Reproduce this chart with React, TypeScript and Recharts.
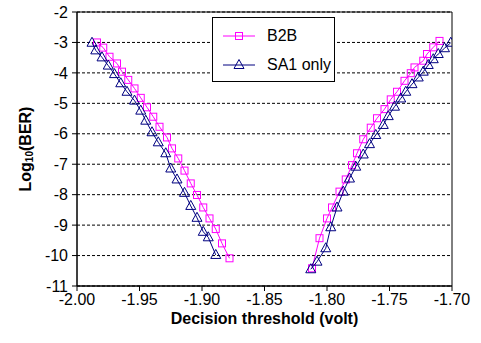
import {
  ScatterChart,
  Scatter,
  XAxis,
  YAxis,
  CartesianGrid,
  Legend,
  ReferenceArea,
} from "recharts";

const MAGENTA = "#ff00ff";
const NAVY = "#000080";
const FONT = '"Liberation Sans", Arial, sans-serif';

const X_TICKS = [-2.0, -1.95, -1.9, -1.85, -1.8, -1.75, -1.7];
const Y_TICKS = [-11, -10, -9, -8, -7, -6, -5, -4, -3, -2];

// B2B, falling edge
const b2bLeftX = [-1.984, -1.979, -1.974, -1.968, -1.964, -1.959, -1.954, -1.949, -1.944, -1.939, -1.934, -1.928, -1.924, -1.919, -1.914, -1.909, -1.904, -1.899, -1.894, -1.889, -1.884, -1.878];
const b2bLeftY = [-3.0, -3.17, -3.47, -3.69, -3.96, -4.23, -4.51, -4.82, -5.13, -5.44, -5.77, -6.12, -6.48, -6.81, -7.21, -7.63, -8.01, -8.42, -8.78, -9.13, -9.6, -10.09];

// B2B, rising edge
const b2bRightX = [-1.812, -1.806, -1.8, -1.796, -1.79, -1.785, -1.78, -1.776, -1.771, -1.765, -1.76, -1.754, -1.749, -1.744, -1.738, -1.733, -1.73, -1.723, -1.72, -1.715, -1.71];
const b2bRightY = [-10.42, -9.43, -8.78, -8.42, -7.9, -7.5, -7.03, -6.64, -6.18, -5.8, -5.49, -5.19, -4.87, -4.62, -4.26, -4.01, -3.82, -3.6, -3.38, -3.16, -2.95];

// SA1 only, falling edge
const sa1LeftX = [-1.988, -1.985, -1.98, -1.975, -1.97, -1.965, -1.96, -1.954, -1.949, -1.945, -1.94, -1.935, -1.929, -1.925, -1.92, -1.914, -1.909, -1.904, -1.899, -1.895, -1.889];
const sa1LeftY = [-3.01, -3.26, -3.49, -3.76, -4.04, -4.34, -4.62, -4.91, -5.24, -5.57, -5.95, -6.28, -6.64, -7.14, -7.5, -7.94, -8.37, -8.76, -9.22, -9.4, -9.98];

// SA1 only, rising edge
const sa1RightX = [-1.813, -1.808, -1.801, -1.797, -1.792, -1.787, -1.782, -1.777, -1.771, -1.766, -1.761, -1.755, -1.751, -1.746, -1.741, -1.737, -1.732, -1.727, -1.723, -1.719, -1.715, -1.711, -1.706, -1.701];
const sa1RightY = [-10.45, -10.2, -9.76, -9.07, -8.42, -7.9, -7.47, -7.08, -6.68, -6.34, -6.04, -5.71, -5.42, -5.11, -4.84, -4.62, -4.37, -4.15, -3.96, -3.74, -3.55, -3.38, -3.19, -3.01];

const zip = (xs: number[], ys: number[]) => xs.map((x, i) => ({ x, y: ys[i] }));

function SquareDot(props: any) {
  const { cx, cy } = props;
  if (cx == null || cy == null) return null;
  return <rect x={cx - 3.5} y={cy - 3.5} width={7} height={7} fill="none" stroke={MAGENTA} strokeWidth={1} />;
}

function TriangleDot(props: any) {
  const { cx, cy } = props;
  if (cx == null || cy == null) return null;
  return (
    <polygon
      points={`${cx},${cy - 5.5} ${cx + 5},${cy + 3.5} ${cx - 5},${cy + 3.5}`}
      fill="none"
      stroke={NAVY}
      strokeWidth={1}
    />
  );
}

function LegendBox() {
  const row = (label: string, color: string, shape: "square" | "triangle") => (
    <div style={{ display: "flex", alignItems: "center", height: 29 }}>
      <svg width={40} height={16} style={{ marginRight: 6 }}>
        <line x1={2} y1={8} x2={34} y2={8} stroke={color} strokeWidth={1} />
        {shape === "square" ? (
          <rect x={14.5} y={4.5} width={7} height={7} fill="none" stroke={color} />
        ) : (
          <polygon points="18,2.5 23,11.5 13,11.5" fill="none" stroke={color} />
        )}
      </svg>
      <span style={{ fontFamily: FONT, fontSize: 16, color: "#000" }}>{label}</span>
    </div>
  );
  return (
    <div
      style={{
        boxSizing: "border-box",
        width: 123,
        height: 65,
        border: "1px solid #000",
        background: "#fff",
        padding: "3px 0 0 8px",
      }}
    >
      {row("B2B", MAGENTA, "square")}
      {row("SA1 only", NAVY, "triangle")}
    </div>
  );
}

function YLabel(props: any) {
  const { viewBox } = props;
  const cx = 25;
  const cy = viewBox.y + viewBox.height / 2;
  return (
    <text
      x={cx}
      y={cy}
      transform={`rotate(-90, ${cx}, ${cy})`}
      textAnchor="middle"
      dominantBaseline="central"
      fontFamily={FONT}
      fontSize={16}
      fontWeight="bold"
      fill="#000"
    >
      Log
      <tspan fontSize={10} dy={4}>10</tspan>
      <tspan dy={-4}>(BER)</tspan>
    </text>
  );
}

function XLabel(props: any) {
  const { viewBox } = props;
  return (
    <text
      x={viewBox.x + viewBox.width / 2}
      y={viewBox.y + 38}
      textAnchor="middle"
      fontFamily={FONT}
      fontSize={16}
      fontWeight="bold"
      fill="#000"
    >
      Decision threshold (volt)
    </text>
  );
}

export default function App() {
  const tick = { fill: "#000", fontSize: 16, fontFamily: FONT };
  return (
    <div style={{ width: 481, height: 343, background: "#fff" }}>
      <style>{`body{margin:0;background:#fff}`}</style>
      <ScatterChart width={481} height={343} margin={{ top: 12, right: 29, bottom: 0, left: 0 }}>
        <CartesianGrid vertical={false} stroke="#000" strokeDasharray="3 2" />
        <ReferenceArea x1={-2} x2={-1.7} y1={-11} y2={-2} fill="none" stroke="#000" strokeWidth={1} />
        <XAxis
          type="number"
          dataKey="x"
          domain={[-2, -1.7]}
          ticks={X_TICKS}
          tickFormatter={(v: number) => v.toFixed(2)}
          tick={tick}
          tickSize={5}
          tickMargin={3}
          height={57}
          allowDataOverflow
          axisLine={{ stroke: "#000" }}
          tickLine={{ stroke: "#000" }}
          label={<XLabel />}
        />
        <YAxis
          type="number"
          dataKey="y"
          domain={[-11, -2]}
          ticks={Y_TICKS}
          tick={tick}
          tickSize={5}
          tickMargin={4}
          width={77}
          allowDataOverflow
          axisLine={{ stroke: "#000" }}
          tickLine={{ stroke: "#000" }}
          label={<YLabel />}
        />
        <Legend
          layout="vertical"
          align="center"
          verticalAlign="middle"
          wrapperStyle={{ left: 212, top: 17, width: 123, height: 65 }}
          content={() => <LegendBox />}
        />
        <Scatter name="B2B" data={zip(b2bLeftX, b2bLeftY)} line={{ stroke: MAGENTA, strokeWidth: 1 }} shape={<SquareDot />} isAnimationActive={false} />
        <Scatter name="B2B right" data={zip(b2bRightX, b2bRightY)} line={{ stroke: MAGENTA, strokeWidth: 1 }} shape={<SquareDot />} legendType="none" isAnimationActive={false} />
        <Scatter name="SA1 only" data={zip(sa1LeftX, sa1LeftY)} line={{ stroke: NAVY, strokeWidth: 1 }} shape={<TriangleDot />} isAnimationActive={false} />
        <Scatter name="SA1 right" data={zip(sa1RightX, sa1RightY)} line={{ stroke: NAVY, strokeWidth: 1 }} shape={<TriangleDot />} legendType="none" isAnimationActive={false} />
      </ScatterChart>
    </div>
  );
}
